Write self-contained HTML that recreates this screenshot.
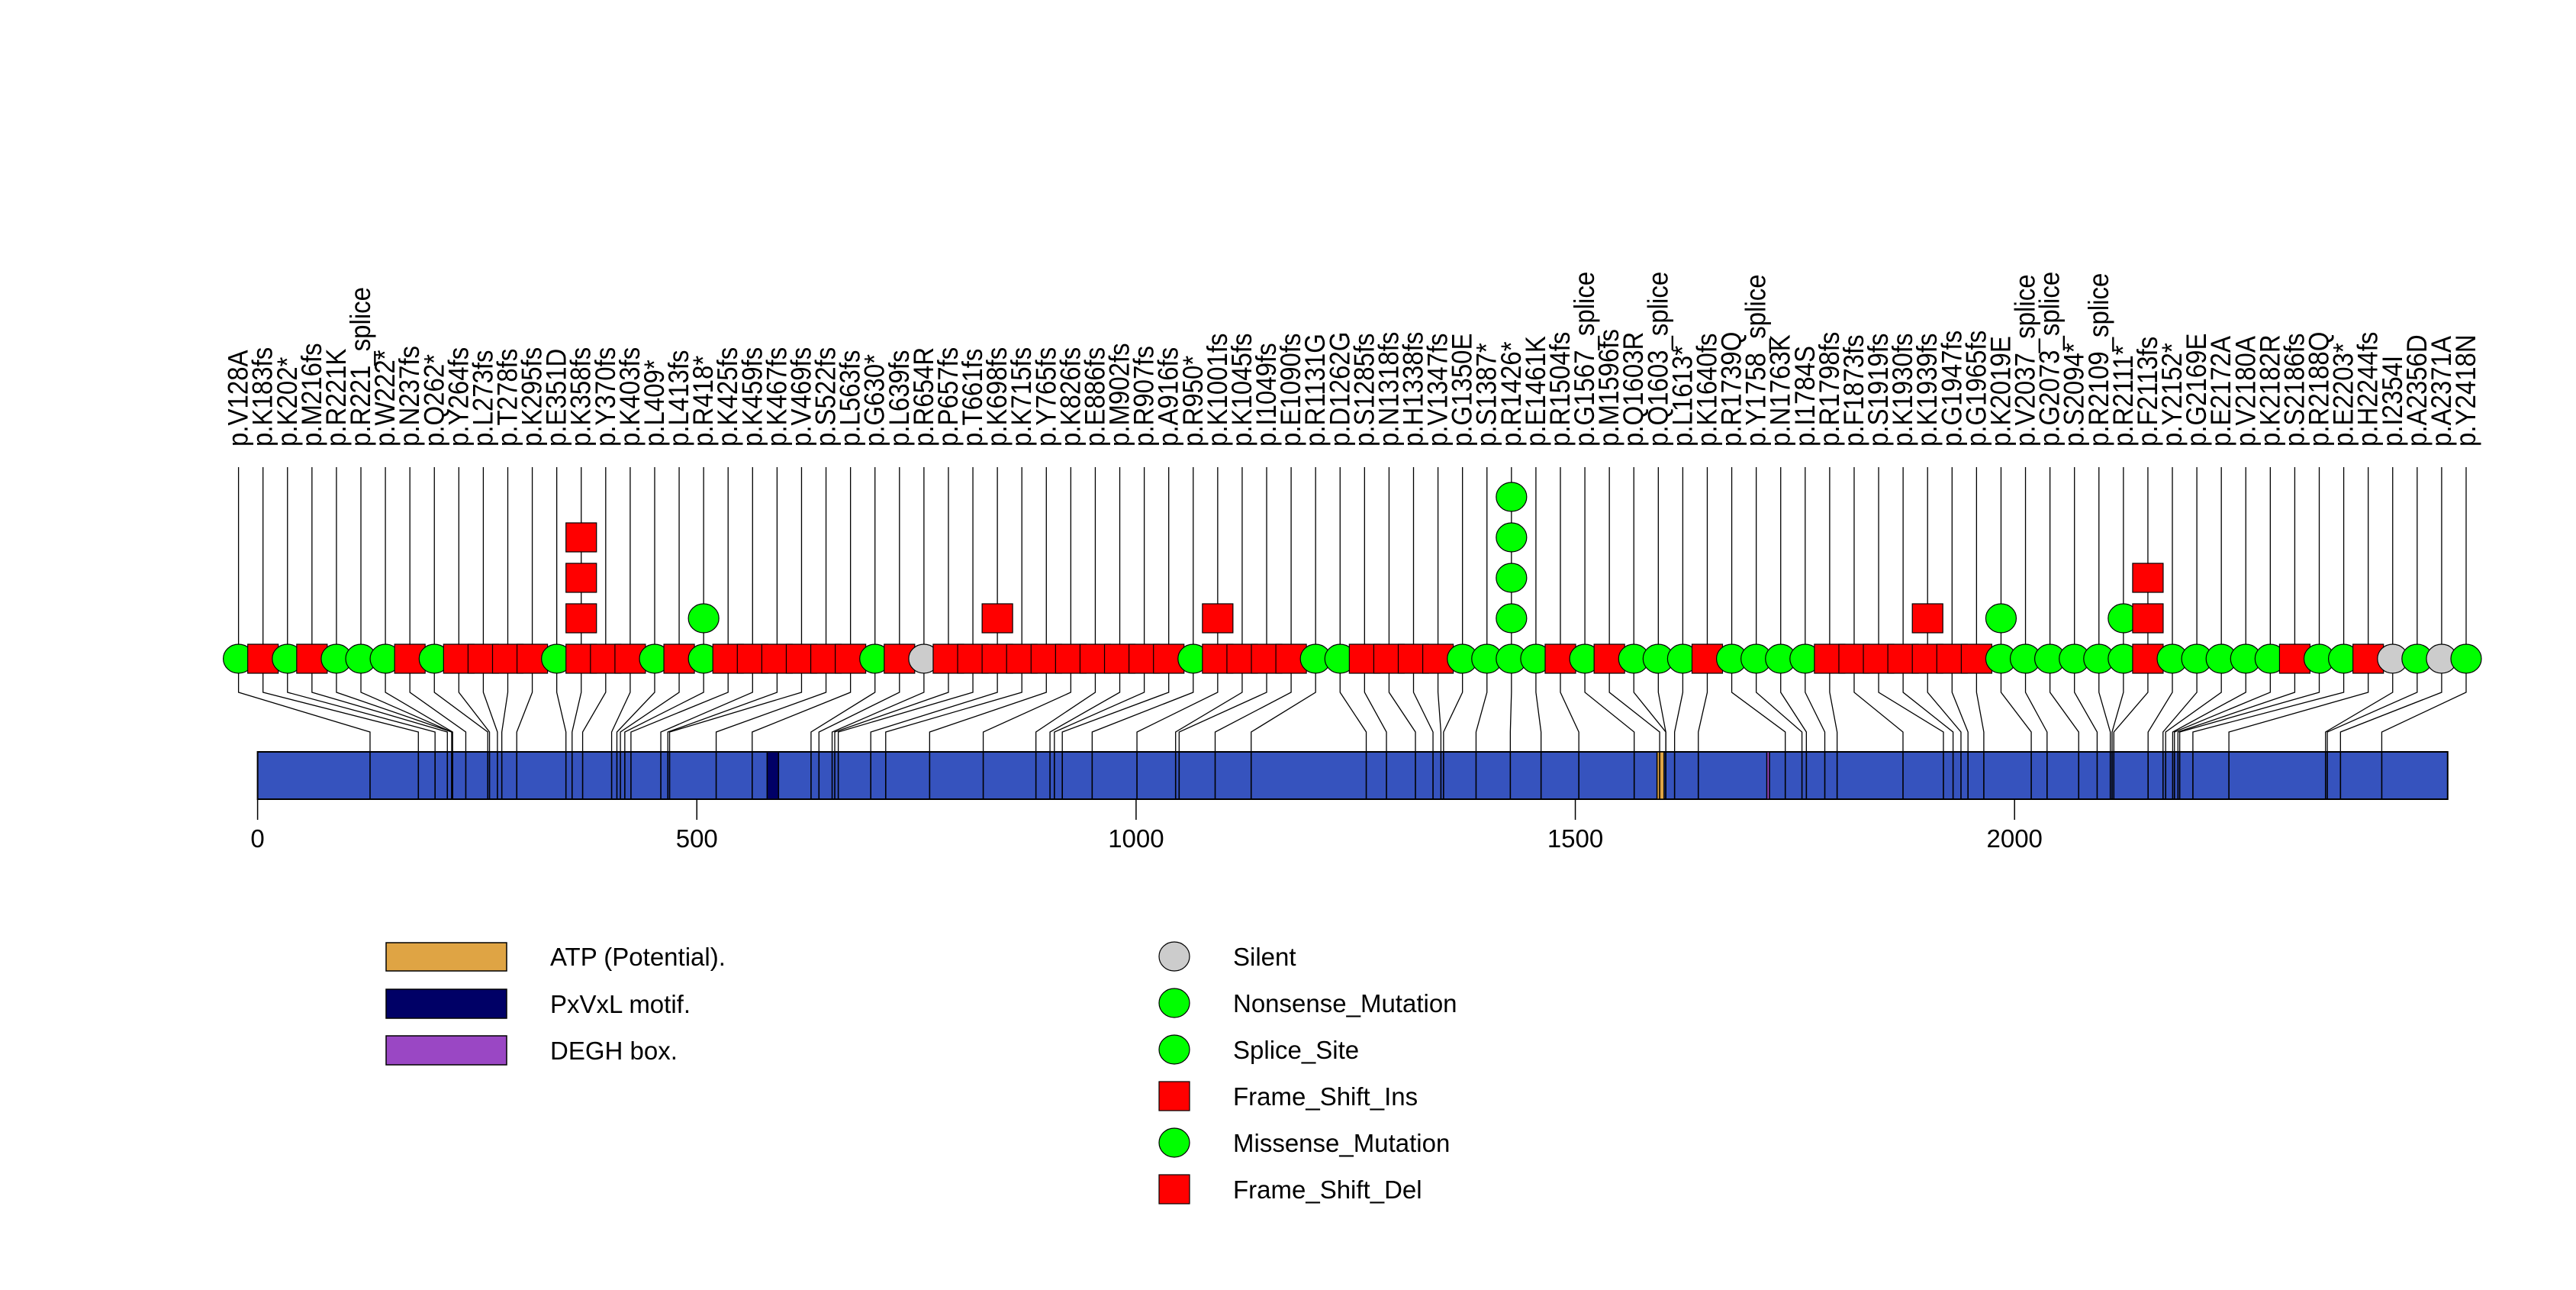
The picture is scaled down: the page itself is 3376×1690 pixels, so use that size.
<!DOCTYPE html>
<html><head><meta charset="utf-8"><style>
html,body{margin:0;padding:0;background:#fff;}
svg{display:block;font-family:"Liberation Sans",Arial,sans-serif;}
</style></head><body>
<svg id="chart" width="3376" height="1690" viewBox="0 0 3376 1690" xmlns="http://www.w3.org/2000/svg">
<g id="conn"></g>
<rect id="protein" x="337.6" y="985" width="2870" height="62" fill="#3653BE" stroke="#000" stroke-width="2"/>
<g id="domains"></g>
<g id="barlines"></g>
<g id="axis"></g>
<g id="glyphs"></g>
<g id="labels"></g>
<g id="legend1">
<rect x="506" y="1235" width="158" height="37" fill="#DFA444" stroke="#000" stroke-width="1.5"/>
<text x="721" y="1265" font-size="33">ATP (Potential).</text>
<rect x="506" y="1296" width="158" height="38" fill="#000066" stroke="#000" stroke-width="1.5"/>
<text x="721" y="1327" font-size="33">PxVxL motif.</text>
<rect x="506" y="1357" width="158" height="38" fill="#9A47C4" stroke="#000" stroke-width="1.5"/>
<text x="721" y="1388" font-size="33">DEGH box.</text>
</g>
<g id="legend2"></g>
</svg>
<script>
const labels = ["p.V128A","p.K183fs","p.K202*","p.M216fs","p.R221K","p.R221_splice","p.W222*","p.N237fs","p.Q262*","p.Y264fs","p.L273fs","p.T278fs","p.K295fs","p.E351D","p.K358fs","p.Y370fs","p.K403fs","p.L409*","p.L413fs","p.R418*","p.K425fs","p.K459fs","p.K467fs","p.V469fs","p.S522fs","p.L563fs","p.G630*","p.L639fs","p.R654R","p.P657fs","p.T661fs","p.K698fs","p.K715fs","p.Y765fs","p.K826fs","p.E886fs","p.M902fs","p.R907fs","p.A916fs","p.R950*","p.K1001fs","p.K1045fs","p.I1049fs","p.E1090fs","p.R1131G","p.D1262G","p.S1285fs","p.N1318fs","p.H1338fs","p.V1347fs","p.G1350E","p.S1387*","p.R1426*","p.E1461K","p.R1504fs","p.G1567_splice","p.M1596fs","p.Q1603R","p.Q1603_splice","p.L1613*","p.K1640fs","p.R1739Q","p.Y1758_splice","p.N1763K","p.I1784S","p.R1798fs","p.F1873fs","p.S1919fs","p.K1930fs","p.K1939fs","p.G1947fs","p.G1965fs","p.K2019E","p.V2037_splice","p.G2073_splice","p.S2094*","p.R2109_splice","p.R2111*","p.F2113fs","p.Y2152*","p.G2169E","p.E2172A","p.V2180A","p.K2182R","p.S2186fs","p.R2188Q","p.E2203*","p.H2244fs","p.I2354I","p.A2356D","p.A2371A","p.Y2418N"];
const positions = [128,183,202,216,221,221,222,237,262,264,273,278,295,351,358,370,403,409,413,418,425,459,467,469,522,563,630,639,654,657,661,698,715,765,826,886,902,907,916,950,1001,1045,1049,1090,1131,1262,1285,1318,1338,1347,1350,1387,1426,1461,1504,1567,1596,1603,1603,1613,1640,1739,1758,1763,1784,1798,1873,1919,1930,1939,1947,1965,2019,2037,2073,2094,2109,2111,2113,2152,2169,2172,2180,2182,2186,2188,2203,2244,2354,2356,2371,2418];
const silentSet = ["p.R654R","p.I2354I","p.A2371A"];
const extraCounts = {"p.K358fs":3,"p.R418*":1,"p.K698fs":1,"p.K1001fs":1,"p.R1426*":4,"p.K1939fs":1,"p.K2019E":1,"p.R2111*":1,"p.F2113fs":2};
const domainNames = ["PxVxL motif.","ATP (Potential).","DEGH box."];
const domainStart = [580,1593,1718];
const domainEnd = [593,1601,1721];
const domainColors = ["#000066","#DFA444","#9A47C4"];
const ticks = [0,500,1000,1500,2000];
const proteinLength = 2493;

const NS="http://www.w3.org/2000/svg";
const X0=337.6, SCALE=1.1513;
const px = aa => X0 + aa*SCALE;
const STICK0=312.6, STEP=(3232-312.6)/91;
const sx = i => STICK0 + i*STEP;
const ROW=863, DY=53;
function mk(tag, attrs, parent){const e=document.createElementNS(NS,tag);for(const k in attrs)e.setAttribute(k,attrs[k]);parent.appendChild(e);return e;}

document.getElementById('protein').setAttribute('width', px(proteinLength)-X0);

const conn=document.getElementById('conn'), bl=document.getElementById('barlines'), gl=document.getElementById('glyphs'), lb=document.getElementById('labels'), dm=document.getElementById('domains'), ax=document.getElementById('axis');

domainStart.forEach((s,i)=>{
  const r=mk('rect',{x:px(s),y:985,width:px(domainEnd[i])-px(s),height:62,fill:domainColors[i],stroke:'#000','stroke-width':1.5},dm);
  
  
});

positions.forEach((p,i)=>{
  const x=sx(i);
  const line=mk('polyline',{points:`${x},612 ${x},907 ${px(p)},959 ${px(p)},985`,fill:'none',stroke:'#000','stroke-width':1.3},conn);
  
  
  const bline=mk('line',{x1:px(p),y1:985,x2:px(p),y2:1047,stroke:'#000','stroke-width':1.6},bl);
  
  
  const t=mk('text',{transform:`translate(${x+12},585) rotate(-90) scale(1,1.12)`,'font-size':33},lb);
  t.textContent=labels[i];
  
  
});

positions.forEach((p,i)=>{
  const x=sx(i), lab=labels[i], n=1+(extraCounts[lab]||0);
  const isFs=/fs$/.test(lab), isSilent=silentSet.includes(lab);
  for(let k=0;k<n;k++){
    const y=ROW-k*DY;
    let e;
    if(isFs) e=mk('rect',{x:x-20,y:y-19,width:40,height:38,fill:'#FF0000',stroke:'#000','stroke-width':1.2},gl);
    else e=mk('ellipse',{cx:x,cy:y,rx:20,ry:19,fill:isSilent?'#CCCCCC':'#00FF00',stroke:'#000','stroke-width':1.2},gl);
    
    
  }
});

ticks.forEach(t=>{
  const l=mk('line',{x1:px(t),y1:1047,x2:px(t),y2:1074,stroke:'#000','stroke-width':1.5},ax);
  
  
  const tx=mk('text',{x:px(t),y:1110,'font-size':33,'text-anchor':'middle'},ax);
  tx.textContent=String(t);
  
  
});

const legTypes=["Silent","Nonsense_Mutation","Splice_Site","Frame_Shift_Ins","Missense_Mutation","Frame_Shift_Del"];
const legColors=["#CCCCCC","#00FF00","#00FF00","#FF0000","#00FF00","#FF0000"];
const lg=document.getElementById('legend2');
legTypes.forEach((name,i)=>{
  const y=1253+i*61;
  let e;
  if(name.startsWith('Frame')) e=mk('rect',{x:1519,y:y-19,width:40,height:38,fill:legColors[i],stroke:'#000','stroke-width':1.2},lg);
  else e=mk('ellipse',{cx:1539,cy:y,rx:20,ry:19,fill:legColors[i],stroke:'#000','stroke-width':1.2},lg);
  
  
  const t=mk('text',{x:1616,y:y+12,'font-size':33},lg);
  t.textContent=name;
  
  
});
</script>
</body></html>
